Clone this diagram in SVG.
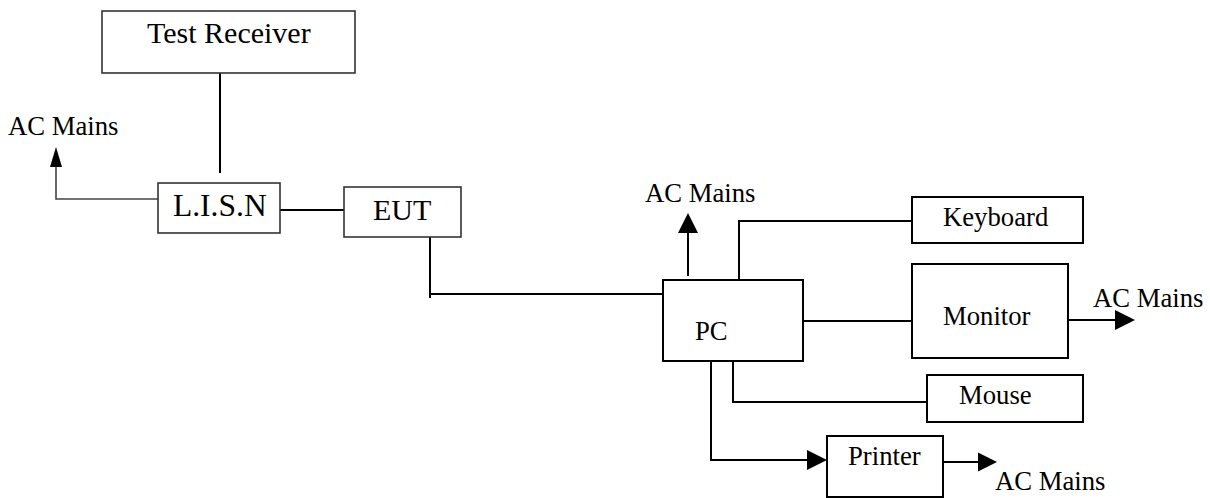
<svg xmlns="http://www.w3.org/2000/svg" width="1210" height="498" viewBox="0 0 1210 498">
<style>
.box{fill:#fff;stroke:#000;stroke-width:2}
.boxl{fill:#fff;stroke:#333;stroke-width:1.6}
text{font-family:'Liberation Serif','Times New Roman',serif;fill:#000}
.t{font-size:26.7px}
.tl{font-size:30px}
.ln{fill:none;stroke:#000;stroke-width:2}
.lnl{fill:none;stroke:#444;stroke-width:1.6}
.ah{fill:#000;stroke:none}
</style>
<rect width="1210" height="498" fill="#fff"/>
<g id="connectors">
<line class="ln" x1="220" y1="73" x2="220" y2="173"/>
<polyline class="lnl" points="158,199 56,199 56,166"/>
<polygon class="ah" points="56,147 50,167 62,167"/>
<line class="ln" x1="273" y1="210" x2="344" y2="210"/>
<line class="ln" x1="430" y1="237" x2="430" y2="298"/>
<line class="ln" x1="430" y1="294" x2="663" y2="294"/>
<line class="ln" x1="688" y1="276" x2="688" y2="232"/>
<polygon class="ah" points="688,213 678,233 698,233"/>
<polyline class="ln" points="739,282 739,221 912,221"/>
<line class="ln" x1="799" y1="321" x2="917" y2="321"/>
<line class="ln" x1="1068" y1="320" x2="1116" y2="320"/>
<polygon class="ah" points="1135,320 1115,310 1115,330"/>
<polyline class="ln" points="733,361 733,402 927,402"/>
<polyline class="ln" points="711,361 711,460 808,460"/>
<polygon class="ah" points="827,460 807,450 807,470"/>
<line class="ln" x1="944" y1="462" x2="979" y2="462"/>
<polygon class="ah" points="997,462 978,452.5 978,471.5"/>
</g>
<g id="test-receiver">
<rect class="boxl" x="102" y="11" width="253" height="62"/>
<text class="tl" x="147" y="43" font-family="Liberation Serif, serif">Test Receiver</text>
</g>
<g id="ac-mains-lisn">
<text class="t" x="8" y="135" font-family="Liberation Serif, serif">AC Mains</text>
</g>
<g id="lisn">
<rect class="boxl" x="158" y="183" width="122" height="50"/>
<text class="tl" x="173" y="216" font-family="Liberation Serif, serif" style="font-size:31.5px">L.I.S.N</text>
</g>
<g id="eut">
<rect class="boxl" x="344" y="187" width="117" height="50"/>
<text class="tl" x="373" y="220" font-family="Liberation Serif, serif">EUT</text>
</g>
<g id="pc">
<rect class="box" x="663" y="280" width="140" height="81"/>
<text class="t" x="695" y="340" font-family="Liberation Serif, serif">PC</text>
</g>
<g id="ac-mains-pc">
<text class="t" x="645" y="202" font-family="Liberation Serif, serif">AC Mains</text>
</g>
<g id="keyboard">
<rect class="box" x="912" y="197" width="171" height="46"/>
<text class="t" x="943" y="226" font-family="Liberation Serif, serif">Keyboard</text>
</g>
<g id="monitor">
<rect class="box" x="912" y="264" width="156" height="94"/>
<text class="t" x="943" y="325" font-family="Liberation Serif, serif">Monitor</text>
</g>
<g id="ac-mains-monitor">
<text class="t" x="1093" y="307" font-family="Liberation Serif, serif">AC Mains</text>
</g>
<g id="mouse">
<rect class="box" x="927" y="375" width="156" height="47"/>
<text class="t" x="959" y="404" font-family="Liberation Serif, serif">Mouse</text>
</g>
<g id="printer">
<rect class="box" x="827" y="436" width="116" height="61"/>
<text class="t" x="848" y="465" font-family="Liberation Serif, serif">Printer</text>
</g>
<g id="ac-mains-printer">
<text class="t" x="995" y="490" font-family="Liberation Serif, serif">AC Mains</text>
</g>
</svg>
